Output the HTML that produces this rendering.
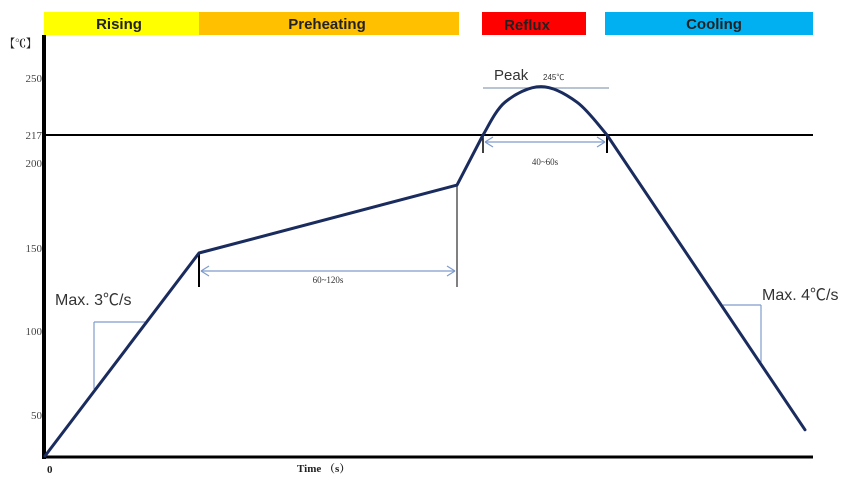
<!DOCTYPE html>
<html><head><meta charset="utf-8"><style>
html,body{margin:0;padding:0;background:#fff;}
svg{display:block;}
</style></head><body>
<svg id="chart" width="859" height="484" viewBox="0 0 859 484" xmlns="http://www.w3.org/2000/svg">
<g font-family="Liberation Sans, sans-serif" font-weight="bold" font-size="15" text-anchor="middle" fill="#222">
<rect x="44" y="12" width="155" height="23" fill="#ffff00"/>
<text x="119" y="29">Rising</text>
<rect x="199" y="12" width="260" height="23" fill="#ffc000"/>
<text x="327" y="29">Preheating</text>
<rect x="482" y="12" width="104" height="23" fill="#ff0000"/>
<text x="527" y="30">Reflux</text>
<rect x="605" y="12" width="208" height="23" fill="#00b0f0"/>
<text x="714" y="29">Cooling</text>
</g>
<g id="axes"></g>
<g id="annot"></g>
<g id="series"></g>
</svg>
<script>
const yTicks = [250, 217, 200, 150, 100, 50];
const yTickLabels = ["250", "217", "200", "150", "100", "50"];
const times = [0, 77, 206, 219, 230, 248, 266, 281, 380];
const temps = [0, 147, 187, 217, 236, 245, 236, 217, 32];

const NS = "http://www.w3.org/2000/svg";
const yDom = [0, 50, 100, 150, 200, 217, 250];
const yPx = [456, 415, 331, 248, 163, 135, 78];
function yScale(v){
  for (let i=0;i<yDom.length-1;i++){
    if (v<=yDom[i+1] || i===yDom.length-2){
      const t=(v-yDom[i])/(yDom[i+1]-yDom[i]);
      return yPx[i]+t*(yPx[i+1]-yPx[i]);
    }
  }
}
function xScale(t){ return 45 + t*2; }
function mk(tag, attrs, parent){
  const e=document.createElementNS(NS,tag);
  for (const k in attrs) e.setAttribute(k, attrs[k]);
  parent.appendChild(e); return e;
}
const axes=document.getElementById('axes');
const annot=document.getElementById('annot');
const series=document.getElementById('series');

let e;
e=mk('line',{x1:44,y1:35,x2:44,y2:459,stroke:'#000','stroke-width':4},axes);


e=mk('line',{x1:42,y1:457,x2:813,y2:457,stroke:'#000','stroke-width':3},axes);


e=mk('line',{x1:44,y1:yScale(217),x2:813,y2:yScale(217),stroke:'#000','stroke-width':2},axes);



yTicks.forEach((v,i)=>{
  const t=mk('text',{x:42,y:yScale(v)+4,'text-anchor':'end','font-family':'Liberation Serif, serif','font-size':11,fill:'#444'},axes);
  t.textContent=yTickLabels[i];
  
  
});
e=mk('text',{x:4,y:47,'font-family':'Liberation Serif, Noto Serif CJK SC, serif','font-size':11,'font-weight':'bold',fill:'#222'},axes);
e.textContent='【℃】';


e=mk('text',{x:47,y:473,'font-family':'Liberation Serif, serif','font-size':11,'font-weight':'bold',fill:'#222'},axes);
e.textContent='0';


e=mk('text',{x:297,y:472,'font-family':'Liberation Serif, Noto Serif CJK SC, serif','font-size':11,'font-weight':'bold',fill:'#222'},axes);
e.textContent='Time （s）';



const blue='#7f9ccc';
function ln(x1,y1,x2,y2,col,w,name){
  const l=mk('line',{x1,y1,x2,y2,stroke:col,'stroke-width':w},annot);
  
  
}
function tx(x,y,s,size,name,anchor,fam){
  const t=mk('text',{x,y,'font-size':size,'font-family':fam||'Liberation Sans, Noto Sans CJK SC, sans-serif',fill:'#333','text-anchor':anchor||'start'},annot);
  t.textContent=s;
  
  
}
const xPre0=xScale(times[1]), xPre1=xScale(times[2]);
ln(xPre0,253,xPre0,287,'#000',2,'preheat-start-tick');
ln(xPre1,yScale(temps[2]),xPre1,287,'#555',1.5,'preheat-end-tick');
ln(xPre0+2,271,xPre1-2,271,blue,1.2,'preheat-duration-arrow');
ln(xPre0+2,271,xPre0+10,266,blue,1.2,'arrow-head');
ln(xPre0+2,271,xPre0+10,276,blue,1.2,'arrow-head');
ln(xPre1-2,271,xPre1-10,266,blue,1.2,'arrow-head');
ln(xPre1-2,271,xPre1-10,276,blue,1.2,'arrow-head');
tx((xPre0+xPre1)/2,283,'60~120s',9,'preheat-duration-label','middle','Liberation Serif, serif');

const xR0=xScale(times[3]), xR1=xScale(times[7]);
ln(xR0,yScale(217),xR0,153,'#000',1.5,'reflux-start-tick');
ln(xR1,yScale(217),xR1,153,'#000',2,'reflux-end-tick');
ln(xR0+2,142,xR1-2,142,blue,1.2,'reflux-duration-arrow');
ln(xR0+2,142,xR0+10,137,blue,1.2,'arrow-head');
ln(xR0+2,142,xR0+10,147,blue,1.2,'arrow-head');
ln(xR1-2,142,xR1-10,137,blue,1.2,'arrow-head');
ln(xR1-2,142,xR1-10,147,blue,1.2,'arrow-head');
tx((xR0+xR1)/2,165,'40~60s',9,'reflux-duration-label','middle','Liberation Serif, serif');

ln(483,88,609,88,'#8fa0b8',1.3,'peak-line');
tx(494,80,'Peak',15,'peak-label');
tx(543,80,'245℃',8,'peak-value-label');

ln(94,322,145,322,blue,1.2,'rise-slope-horizontal');
ln(94,322,94,389,blue,1.2,'rise-slope-vertical');
tx(55,305,'Max. 3℃/s',16,'rise-rate-label');
ln(723,305,761,305,blue,1.2,'cool-slope-horizontal');
ln(761,305,761,362,blue,1.2,'cool-slope-vertical');
tx(762,300,'Max. 4℃/s',16,'cool-rate-label');

// profile curve: straight segments, smooth (Catmull-Rom) through reflow peak
const P=times.map((t,i)=>[xScale(t), yScale(temps[i])]);
let d='M'+P[0][0]+','+P[0][1];
const s0=3, s1=7;
for(let i=1;i<P.length;i++){
  if(i>s0 && i<=s1){
    const p1=P[i-1], p2=P[i];
    const p0=(i-2>=s0)?P[i-2]:P[i-1];
    const p3=(i+1<=s1)?P[i+1]:P[i];
    const c1=[p1[0]+(p2[0]-p0[0])/6, p1[1]+(p2[1]-p0[1])/6];
    const c2=[p2[0]-(p3[0]-p1[0])/6, p2[1]-(p3[1]-p1[1])/6];
    d+=' C'+c1[0].toFixed(1)+','+c1[1].toFixed(1)+' '+c2[0].toFixed(1)+','+c2[1].toFixed(1)+' '+p2[0].toFixed(1)+','+p2[1].toFixed(1);
  } else {
    d+=' L'+P[i][0].toFixed(1)+','+P[i][1].toFixed(1);
  }
}
const p=mk('path',{d:d,fill:'none',stroke:'#1a2b5e','stroke-width':3,'stroke-linejoin':'round','stroke-linecap':'round'},series);


</script>
</body></html>
